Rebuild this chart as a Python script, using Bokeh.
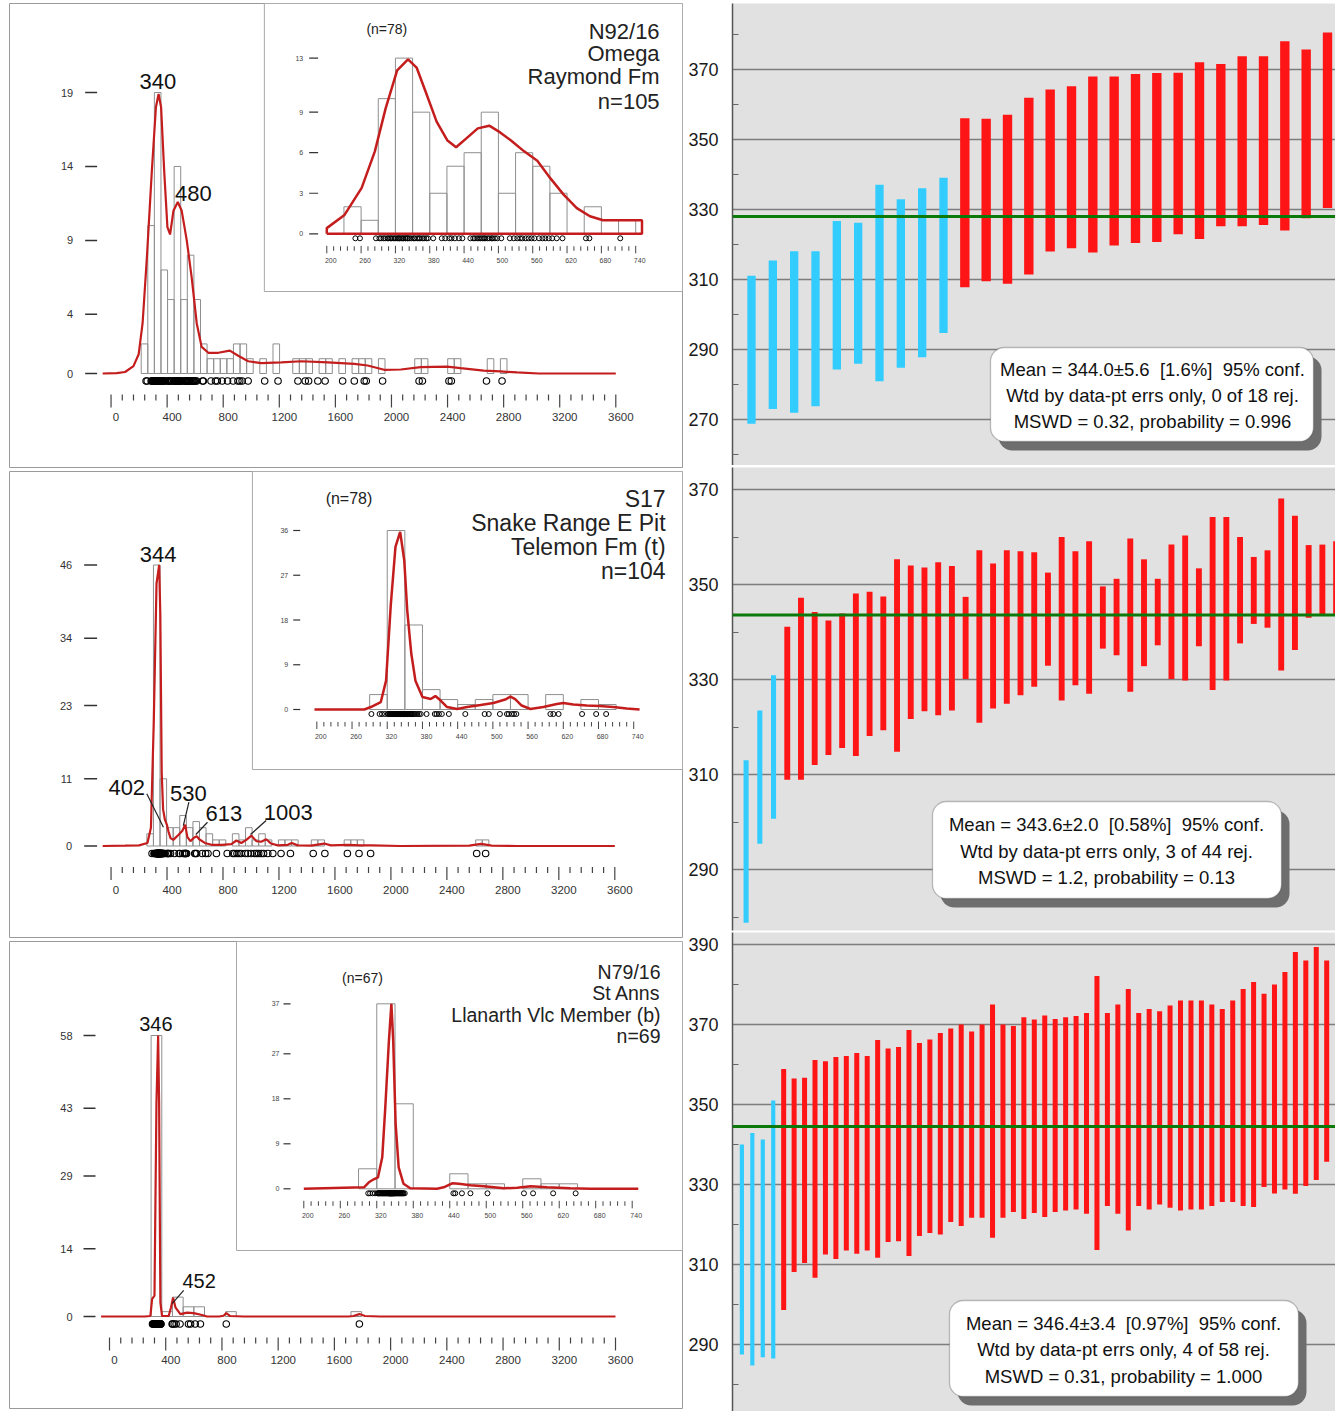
from bokeh.plotting import figure
from bokeh.models import Range1d, FixedTicker, Span, BoxAnnotation, Label
from bokeh.layouts import row, column
from bokeh.embed import file_html
from bokeh.resources import INLINE
from bokeh.core.properties import value

FONT = "Liberation Sans"
KDE_RED = "#c41d1d"
HIST_LINE = "#8f8f8f"
BLUE = "#33ccff"
RED = "#ff1515"

# ====================== DATA ======================
MAIN_XMAJOR = [0, 400, 800, 1200, 1600, 2000, 2400, 2800, 3200, 3600]
MAIN_XMINOR = [t for t in range(0, 3601, 80) if t % 400]
INSET_XMAJOR = [200, 260, 320, 380, 440, 500, 560, 620, 680, 740]
INSET_XMINOR = [t for t in range(200, 741, 12) if (t - 200) % 60]

# ---------- N92/16 ----------
s1_title = ["N92/16", "Omega", "Raymond Fm", "n=105"]
s1_inset_n = "(n=78)"
s1_ages = [250, 258, 286,
           292, 295, 299, 302, 306, 308, 311, 313, 316, 319,
           321, 324, 326, 327, 330, 332, 334, 337, 338, 341, 342, 345, 348,
           352, 354, 358, 361, 363, 367, 370, 374, 377,
           386, 401, 407, 414, 418, 424, 431, 437,
           451, 456, 459, 463, 466, 469,
           472, 475, 477, 481, 484, 488, 490, 494, 498,
           505, 520, 527, 533, 538, 542, 548, 553, 558,
           563, 571, 577, 582, 588, 594, 602, 612, 653, 659, 713,
           745, 758, 793, 831, 871, 905, 918, 935, 978, 1096, 1191, 1333, 1385, 1409,
           1475, 1527, 1652, 1735, 1806, 1820, 1937, 2197, 2221, 2410, 2427, 2678, 2789]
s1_bin_width = 47
s1_bin_left = [215, 262, 309, 356, 403, 450, 497, 544, 591, 638, 685, 732, 779, 826, 873, 920,
               967, 1061, 1155, 1296, 1343, 1390, 1484, 1531, 1625, 1719, 1766, 1813, 1907,
               2166, 2213, 2401, 2448, 2683, 2777]
s1_bin_count = [2, 10, 19, 7, 5, 14, 5, 8, 5, 2, 1, 1, 1, 1, 2, 2, 1, 1, 2, 1, 1, 1, 1, 1, 1,
                1, 1, 1, 1, 1, 1, 1, 1, 1, 1]
s1_kde_x = [-60, 40, 100, 160, 197, 225, 256, 291, 320, 339, 357, 379, 402, 421, 445, 476, 504,
            540, 575, 611, 646, 694, 765, 847, 907, 978, 1072, 1214, 1357, 1546, 1735, 1830,
            1948, 2067, 2209, 2398, 2493, 2658, 2777, 2896, 3050, 3600]
s1_kde_y = [0, 0.02, 0.1, 0.5, 1.3, 3.4, 7.9, 13.7, 18.0, 18.9, 18.0, 13.7, 9.9, 9.4, 11.0, 11.6,
            11.0, 9.0, 6.5, 3.4, 1.8, 1.4, 1.4, 1.55, 1.2, 0.83, 0.7, 0.75, 0.83, 0.75, 0.65,
            0.54, 0.25, 0.27, 0.43, 0.47, 0.36, 0.2, 0.14, 0.07, 0, 0]
s1_yticks = [0, 4, 9, 14, 19]
s1_inset_bin_width = 30
s1_inset_bin_left = [230, 260, 290, 320, 350, 380, 410, 440, 470, 500, 530, 560, 590, 620, 650, 680, 710]
s1_inset_bin_count = [2, 1, 10, 13, 9, 3, 5, 6, 9, 3, 6, 5, 3, 0, 2, 0, 1]
s1_inset_kde_x = [200, 200, 231, 261, 284, 303, 323, 342, 357, 372, 392, 411, 426, 445, 464, 484,
                  503, 522, 545, 568, 591, 614, 637, 660, 683, 751, 751, 200]
s1_inset_kde_y = [0, 0.42, 1.4, 3.4, 6.1, 9.3, 12.1, 12.9, 12.3, 10.6, 8.3, 6.9, 6.4, 7.1, 7.8,
                  8.0, 7.5, 6.9, 6.1, 5.4, 4.1, 2.9, 1.9, 1.3, 1.0, 1.0, 0, 0]
s1_inset_yticks = [0, 3, 6, 9, 13]
s1_peak_text = ["340", "480"]
s1_peak_age = [340, 480]
s1_peak_h = [19, 11.6]

# ---------- S17 ----------
s2_title = ["S17", "Snake Range E Pit", "Telemon Fm (t)", "n=104"]
s2_inset_n = "(n=78)"
s2_ages = [293, 307, 311, 316,
           321, 322, 324, 325, 326, 327, 328, 329, 330, 331, 332, 333, 334, 335, 336, 337, 338, 338, 339, 340,
           341, 341, 342, 343, 343, 344, 345, 345, 346, 347, 347, 348, 348, 349, 349, 349,
           350, 351, 352, 353, 354, 355, 356, 358, 359, 361, 362, 364, 366, 368, 371, 374, 377,
           387, 401, 404, 408, 413, 425, 453, 486, 493, 512, 524, 527, 532, 536, 540,
           598, 603, 612, 652, 676, 693,
           753, 830, 870, 883, 900, 915, 930, 960, 978, 1000, 1025, 1040, 1055, 1073, 1090, 1120, 1156,
           1215, 1282, 1445, 1528, 1689, 1772, 1855, 2613, 2677]
s2_bin_width = 47
s2_bin_left = [256, 303, 350, 397, 444, 491, 538, 585, 632, 679, 726, 773, 867, 914, 961, 1008,
               1055, 1102, 1196, 1243, 1290, 1431, 1478, 1666, 1713, 1760, 2606, 2653]
s2_bin_count = [2, 46, 11, 3, 3, 5, 3, 4, 3, 2, 1, 1, 2, 1, 3, 1, 2, 1, 1, 1, 1, 1, 1, 1, 1, 1, 1, 1]
s2_kde_x = [-60, 100, 200, 260, 285, 305, 325, 344, 352, 362, 372, 385, 400, 410, 425, 445, 481,
            510, 530, 545, 567, 595, 613, 630, 670, 718, 789, 860, 896, 931, 967, 1003, 1038,
            1073, 1109, 1144, 1191, 1263, 1291, 1334, 1429, 1523, 1571, 1689, 1784, 1860, 2068,
            2560, 2645, 2720, 2900, 3600]
s2_kde_y = [0, 0.05, 0.1, 0.5, 3, 20, 43, 46, 38, 12, 6, 4.3, 3.4, 2.4, 1.3, 1.0, 1.8, 2.5, 3.5,
            1.5, 0.8, 1.4, 1.6, 1.1, 0.5, 0.2, 0.2, 0.3, 0.9, 0.5, 1.0, 1.7, 0.8, 0.7, 1.1, 0.4,
            0.1, 0.2, 0.5, 0.1, 0.05, 0.4, 0.1, 0.2, 0.1, 0.1, 0, 0.05, 0.35, 0.05, 0, 0]
s2_yticks = [0, 11, 23, 34, 46]
s2_inset_bin_width = 30
s2_inset_bin_left = [290, 320, 350, 380, 410, 440, 470, 500, 530, 590, 650, 680]
s2_inset_bin_count = [3, 36, 17, 4, 2, 1, 2, 3, 3, 3, 2, 1]
s2_inset_kde_x = [196, 281, 292, 309, 318, 326, 334, 342, 349, 354, 361, 368, 380, 394, 402, 411,
                  422, 439, 456, 479, 501, 521, 530, 538, 549, 564, 586, 609, 620, 637, 660, 682,
                  705, 728, 750]
s2_inset_kde_y = [0, 0, 0.5, 1.5, 5.8, 21, 32.7, 35.7, 30, 20, 11.2, 5.8, 2.5, 2.1, 2.7, 1.8, 0.5,
                  0.1, 0.5, 0.9, 1.3, 2.0, 2.6, 2.1, 0.8, 0.1, 0.5, 1.1, 1.3, 1.0, 0.8, 0.7, 0.5,
                  0.2, 0]
s2_inset_yticks = [0, 9, 18, 27, 36]
s2_peak_text = ["344", "402", "530", "613", "1003"]
s2_peak_age = [344, 402, 530, 613, 1003]
s2_peak_h = [46, 3.4, 3.5, 1.6, 1.7]

# ---------- N79/16 ----------
s3_title = ["N79/16", "St Anns", "Llanarth Vlc Member (b)", "n=69"]
s3_inset_n = "(n=67)"
s3_ages = [306, 309, 313, 317,
           321, 322, 323, 324, 325, 326, 327, 328, 329, 330, 331, 332, 333, 334, 335, 336, 337, 338, 339, 340,
           340, 341, 341, 342, 342, 343, 343, 344, 344, 345, 345, 346, 346, 347, 347, 348, 349,
           350, 350, 351, 352, 353, 354, 355, 356, 357, 358, 359, 360, 361, 362, 363, 364, 366,
           446, 449, 460, 474, 502, 562, 577, 610, 647,
           831, 1778]
s3_bin_width = 76
s3_bin_left = [296, 372, 448, 524, 600, 826, 1718]
s3_bin_count = [58, 1, 4, 2, 2, 1, 1]
s3_kde_x = [-60, 250, 291, 303, 320, 334, 346, 353, 362, 374, 421, 438, 452, 469, 504, 552, 599,
            658, 694, 780, 812, 831, 859, 954, 1700, 1735, 1778, 1818, 1925, 3600]
s3_kde_y = [0, 0, 0.1, 3.6, 4.3, 44, 58, 44, 2.9, 0.1, 0.1, 1.9, 3.9, 1.9, 0.5, 0.8, 0.7, 0.3, 0,
            0, 0.15, 0.7, 0.1, 0, 0, 0.1, 0.5, 0.1, 0, 0]
s3_yticks = [0, 14, 29, 43, 58]
s3_inset_bin_width = 30
s3_inset_bin_left = [290, 320, 350, 440, 470, 500, 560, 590, 620]
s3_inset_bin_count = [4, 37, 17, 3, 1, 1, 2, 1, 1]
s3_inset_kde_x = [200, 299, 307, 315, 322, 329, 334, 340, 344, 347, 351, 356, 364, 375, 419, 430,
                  444, 455, 474, 496, 529, 551, 573, 600, 638, 671, 750]
s3_inset_kde_y = [0, 0.3, 1.3, 1.9, 2.3, 6.3, 16.3, 29.7, 37, 29.7, 13, 4.3, 1, 0.1, 0, 0.3, 1.1,
                  1.0, 0.7, 0.5, 0.1, 0.2, 0.5, 0.3, 0.1, 0, 0]
s3_inset_yticks = [0, 9, 18, 27, 37]
s3_peak_text = ["346", "452"]
s3_peak_age = [346, 452]
s3_peak_h = [58, 3.9]

# ---------- weighted mean plots ----------
wm1_blue_lo = [268.8, 273.0, 271.9, 273.8, 284.3, 285.9, 280.9, 284.8, 287.8, 294.7]
wm1_blue_hi = [311.1, 315.4, 318.1, 318.1, 326.7, 326.2, 337.1, 332.9, 336.1, 339.1]
wm1_red_lo = [307.8, 309.5, 308.8, 311.4, 318.0, 318.9, 317.7, 319.7, 320.4, 320.7, 322.9, 321.6,
              325.2, 325.2, 325.6, 324.0, 327.5, 330.4]
wm1_red_hi = [356.1, 355.9, 357.1, 361.9, 364.3, 365.2, 368.0, 368.0, 368.7, 369.0, 369.1, 372.1,
              371.6, 373.8, 373.8, 378.1, 375.7, 380.6]
wm1_line = 328.0
wm1_yticks = [270, 290, 310, 330, 350, 370, 390]
wm1_yminor = [260, 280, 300, 320, 340, 360, 380]
wm1_text = ["Mean = 344.0±5.6  [1.6%]  95% conf.",
            "Wtd by data-pt errs only, 0 of 18 rej.",
            "MSWD = 0.32, probability = 0.996"]

wm2_blue_lo = [278.8, 295.4, 300.7]
wm2_blue_hi = [313.0, 323.5, 330.9]
wm2_red_lo = [308.9, 308.9, 312.0, 314.1, 315.6, 313.9, 318.1, 319.3, 314.8, 321.7, 323.3, 322.5,
              323.5, 330.1, 320.9, 323.9, 324.9, 326.7, 328.5, 332.9, 325.6, 328.8, 327.0, 336.5,
              335.1, 327.4, 332.8, 337.2, 330.1, 329.8, 337.0, 327.8, 329.8, 337.6, 341.7, 340.9,
              331.9, 336.2, 343.0, 343.5, 343.7]
wm2_red_hi = [341.1, 347.2, 344.2, 342.4, 343.9, 348.1, 348.5, 347.5, 355.3, 354.0, 353.6, 354.7,
              353.9, 347.4, 357.2, 354.4, 357.2, 357.0, 356.8, 352.5, 360.0, 357.0, 359.1, 349.6,
              351.2, 359.7, 355.3, 351.2, 358.4, 360.3, 353.4, 364.2, 364.2, 360.0, 355.8, 357.2,
              368.1, 364.5, 358.3, 358.4, 359.1]
wm2_line = 343.6
wm2_yticks = [290, 310, 330, 350, 370]
wm2_yminor = [280, 300, 320, 340, 360]
wm2_text = ["Mean = 343.6±2.0  [0.58%]  95% conf.",
            "Wtd by data-pt errs only, 3 of 44 rej.",
            "MSWD = 1.2, probability = 0.13"]

wm3_blue_lo = [287.5, 284.75, 286.8, 286.5]
wm3_blue_hi = [340.0, 342.9, 341.25, 351.0]
wm3_red_lo = [298.6, 308.1, 310.4, 306.7, 312.5, 311.4, 313.5, 312.7, 313.5, 311.7, 315.6, 315.8,
              312.1, 317.1, 317.9, 317.5, 320.6, 319.6, 321.7, 321.7, 316.7, 321.7, 323.1, 321.4,
              322.9, 321.9, 323.1, 323.5, 323.75, 322.7, 313.6, 324.6, 322.7, 318.5, 324.6, 323.75,
              325.0, 324.2, 323.5, 323.75, 323.75, 324.6, 325.6, 325.6, 324.6, 324.4, 329.4, 327.75,
              328.75, 327.7, 329.6, 331.1, 335.7]
wm3_red_hi = [358.9, 356.5, 356.7, 361.1, 360.8, 361.9, 362.1, 362.9, 362.1, 366.1, 364.0, 364.4,
              368.6, 365.4, 366.25, 367.9, 369.0, 370.0, 368.25, 370.0, 375.0, 370.0, 369.6, 371.8,
              371.25, 372.25, 371.4, 371.8, 372.1, 372.9, 382.1, 372.9, 375.0, 378.9, 372.9, 373.9,
              373.3, 374.75, 376.0, 376.0, 376.0, 375.0, 373.9, 376.0, 378.9, 380.6, 377.7, 380.0,
              383.1, 388.1, 386.0, 389.4, 386.0]
wm3_line = 344.5
wm3_yticks = [290, 310, 330, 350, 370, 390]
wm3_yminor = [280, 300, 320, 340, 360, 380]
wm3_text = ["Mean = 346.4±3.4  [0.97%]  95% conf.",
            "Wtd by data-pt errs only, 4 of 58 rej.",
            "MSWD = 0.31, probability = 1.000"]

# ====================== LAYOUT (page pixels) ======================
L_CFG = [
    dict(top=0, h=469, frame=(7, 3, 683, 467),
         mx=(109, 0, 616, 3600), my=(373, 0, 92, 19),
         ix=(325.7, 200, 636, 740), iy=(233.3, 0, 57.6, 13),
         box=(263, 3, 683, 291), ytick=(83, 95, 71), iytick=(308, 317, 302),
         title_right=660, title_y=[31, 53, 76, 101], title_size="22px",
         n_pos=(386, 28), n_size="14px", peak_size=22,
         peak_style=[dict(dx=-0.9, dy=-3, align="center"),
                     dict(dx=-3.3, dy=-1, align="left")]),
    dict(top=469, h=470, frame=(7, 471, 683, 937),
         mx=(109, 0, 615, 3600), my=(845.5, 0, 564.5, 46),
         ix=(315.7, 200, 634, 740), iy=(709, 0, 530, 36),
         box=(251, 471, 683, 769), ytick=(82, 95, 70), iytick=(292, 299, 287),
         title_right=666, title_y=[498, 522, 546, 570], title_size="23px",
         n_pos=(348, 498), n_size="16px", peak_size=22,
         peak_style=[dict(dx=-1, dy=-3, align="center"),
                     dict(dx=-22.3, dy=-30, align="right", lead=(-3.9, 2, -20.6, -31.4)),
                     dict(dx=-15.3, dy=-23, align="left", lead=(-1.9, 0.9, 3.7, -22.4)),
                     dict(dx=8.7, dy=-15, align="left", lead=(-1, -1.7, 10.7, -14)),
                     dict(dx=12.5, dy=-15, align="left", lead=(-0.9, -1.1, 14.8, -15.1))]),
    dict(top=939, h=472, frame=(9, 941, 682, 1408),
         mx=(109, 0, 615, 3600), my=(1316, 0, 1035, 58),
         ix=(303.3, 200, 631.7, 740), iy=(1188.3, 0, 1003.3, 37),
         box=(236, 941, 682, 1250), ytick=(83, 95, 72), iytick=(283, 290, 279),
         title_right=660, title_y=[971, 992.5, 1014, 1035.5], title_size="19.5px",
         n_pos=(362, 977), n_size="14px", peak_size=20,
         peak_style=[dict(dx=-2.2, dy=-5, align="center"),
                     dict(dx=9.4, dy=-9.2, align="left", lead=(-0.9, 6.1, 10.7, -7.2))]),
]

R_CFG = [
    dict(top=0, h=465, ft=3, fb=465, xmap=(751, 1, 1327, 28), ymap=(69, 370, 139, 350),
         box=(990, 347, 1313, 441), text_x=1152, text_y=[369, 395, 421], wb=0.39, wr=0.44),
    dict(top=465, h=466, ft=467, fb=930, xmap=(745.6, 1, 1335.6, 44), ymap=(489, 370, 584, 350),
         box=(932, 801, 1281, 898), text_x=1106, text_y=[824, 851, 877], wb=0.37, wr=0.43),
    dict(top=931, h=480, ft=932, fb=1411, xmap=(741.4, 1, 1326.2, 57), ymap=(944, 390, 1024, 370),
         box=(949, 1300, 1298, 1396), text_x=1123, text_y=[1323, 1349, 1376], wb=0.4, wr=0.48),
]


def lin(p0, v0, p1, v1):
    k = (v1 - v0) / (p1 - p0)
    return lambda p: v0 + (p - p0) * k


def txt(p, xs, ys, texts, size, align="center", baseline="middle", color="#222", **kw):
    p.text(x=list(xs), y=list(ys), text=list(texts), text_font=value(FONT), text_font_size=size,
           text_align=align, text_baseline=baseline, text_color=color, **kw)


def hist_panel(cfg, d):
    fl, ft, fr, fb = cfg["frame"]
    top, h = cfg["top"], cfg["h"]
    X, Y = lin(*cfg["mx"]), lin(*cfg["my"])
    IX, IY = lin(*cfg["ix"]), lin(*cfg["iy"])
    sx = (cfg["mx"][2] - cfg["mx"][0]) / (cfg["mx"][3] - cfg["mx"][1])
    sy = (cfg["my"][0] - cfg["my"][2]) / (cfg["my"][3] - cfg["my"][1])
    isx = (cfg["ix"][2] - cfg["ix"][0]) / (cfg["ix"][3] - cfg["ix"][1])
    base, ibase = cfg["my"][0], cfg["iy"][0]

    p = figure(width=685, height=h, x_range=Range1d(X(fl), X(fr)), y_range=Range1d(Y(fb), Y(ft)),
               output_backend="svg", toolbar_location=None,
               x_axis_location=None, y_axis_location=None,
               min_border_left=fl, min_border_right=685 - fr,
               min_border_top=ft - top, min_border_bottom=top + h - fb,
               outline_line_color="#9a9a9a", outline_line_width=1,
               background_fill_color="white", border_fill_color="white")
    p.xgrid.visible = False
    p.ygrid.visible = False
    p.extra_x_ranges = {"ix": Range1d(IX(fl), IX(fr))}
    p.extra_y_ranges = {"iy": Range1d(IY(fb), IY(ft))}
    ins = dict(x_range_name="ix", y_range_name="iy")

    # inset frame
    bx0, by0, bx1, by1 = cfg["box"]
    p.quad(left=[X(bx0)], right=[X(bx1)], top=[Y(by0)], bottom=[Y(by1)],
           fill_color="white", line_color="#a8a8a8", line_width=1)

    # ---- main histogram + KDE ----
    w = d["bin_width"]
    p.quad(left=d["bin_left"], right=[l + w for l in d["bin_left"]], bottom=0, top=d["bin_count"],
           fill_color=None, line_color=HIST_LINE, line_width=1)
    p.line(d["kde_x"], d["kde_y"], line_color=KDE_RED, line_width=2.2)
    p.scatter(x=d["ages"], y=[Y(base + 7.5)] * len(d["ages"]), marker="circle", size=6.5,
              fill_color=None, line_color="black", line_width=1.1)

    # main y ticks
    yt = d["yticks"]
    p.segment(x0=[X(cfg["ytick"][0])] * len(yt), x1=[X(cfg["ytick"][1])] * len(yt), y0=yt, y1=yt,
              line_color="#333", line_width=1.5)
    txt(p, [X(cfg["ytick"][2])] * len(yt), yt, [str(t) for t in yt], "11px", align="right", color="#333")
    # main x ticks
    p.segment(x0=MAIN_XMAJOR, x1=MAIN_XMAJOR, y0=[Y(base + 21)] * len(MAIN_XMAJOR),
              y1=[Y(base + 34)] * len(MAIN_XMAJOR), line_color="#444", line_width=1.2)
    p.segment(x0=MAIN_XMINOR, x1=MAIN_XMINOR, y0=[Y(base + 21)] * len(MAIN_XMINOR),
              y1=[Y(base + 27)] * len(MAIN_XMINOR), line_color="#444", line_width=1.2)
    txt(p, [t + 5 / sx for t in MAIN_XMAJOR], [Y(base + 43.5)] * len(MAIN_XMAJOR),
        [str(t) for t in MAIN_XMAJOR], "11.5px", color="#333")

    # ---- inset ----
    iw = d["inset_bin_width"]
    p.quad(left=d["inset_bin_left"], right=[l + iw for l in d["inset_bin_left"]], bottom=0,
           top=d["inset_bin_count"], fill_color=None, line_color=HIST_LINE, line_width=1, **ins)
    p.line(d["inset_kde_x"], d["inset_kde_y"], line_color=KDE_RED, line_width=2.5, **ins)
    iages = [a for a in d["ages"] if 200 <= a <= 740]
    p.scatter(x=iages, y=[IY(ibase + 4.5)] * len(iages), marker="circle", size=5,
              fill_color=None, line_color="black", line_width=1, **ins)
    iyt = d["inset_yticks"]
    p.segment(x0=[IX(cfg["iytick"][0])] * len(iyt), x1=[IX(cfg["iytick"][1])] * len(iyt),
              y0=iyt, y1=iyt, line_color="#333", line_width=1.2, **ins)
    txt(p, [IX(cfg["iytick"][2])] * len(iyt), iyt, [str(t) for t in iyt], "7px", align="right",
        color="#444", **ins)
    p.segment(x0=INSET_XMAJOR, x1=INSET_XMAJOR, y0=[IY(ibase + 12)] * len(INSET_XMAJOR),
              y1=[IY(ibase + 19.5)] * len(INSET_XMAJOR), line_color="#444", line_width=1, **ins)
    p.segment(x0=INSET_XMINOR, x1=INSET_XMINOR, y0=[IY(ibase + 12.5)] * len(INSET_XMINOR),
              y1=[IY(ibase + 17)] * len(INSET_XMINOR), line_color="#444", line_width=1, **ins)
    txt(p, [t + 4 / isx for t in INSET_XMAJOR], [IY(ibase + 26.5)] * len(INSET_XMAJOR),
        [str(t) for t in INSET_XMAJOR], "7px", color="#444", **ins)

    # ---- titles ----
    txt(p, [X(cfg["title_right"])] * len(d["title"]), [Y(v) for v in cfg["title_y"]], d["title"],
        cfg["title_size"], align="right", color="#222")
    txt(p, [X(cfg["n_pos"][0])], [Y(cfg["n_pos"][1])], [d["inset_n"]], cfg["n_size"], color="#222")

    # ---- peak labels (dy = offset of the text bottom; drawn centred on the digits) ----
    fs = cfg["peak_size"]
    for t, a, hh, st in zip(d["peak_text"], d["peak_age"], d["peak_h"], cfg["peak_style"]):
        cy = st["dy"] - 0.35 * fs
        txt(p, [a + st["dx"] / sx], [hh - cy / sy], [t], "%dpx" % fs, align=st["align"],
            baseline="middle", color="#111")
        if "lead" in st:
            l0, l1, l2, l3 = st["lead"]
            p.segment(x0=[a + l0 / sx], y0=[hh - l1 / sy], x1=[a + l2 / sx], y1=[hh - l3 / sy],
                      line_color="#222", line_width=1.2)
    return p


def wm_panel(cfg, d):
    Xr, Yr = lin(*cfg["xmap"]), lin(*cfg["ymap"])
    top, h, ft, fb = cfg["top"], cfg["h"], cfg["ft"], cfg["fb"]
    p = figure(width=650, height=h, x_range=Range1d(Xr(732), Xr(1335)),
               y_range=Range1d(Yr(fb), Yr(ft)), output_backend="svg", toolbar_location=None,
               x_axis_location=None, y_axis_location="left",
               min_border_left=47, min_border_right=0,
               min_border_top=ft - top, min_border_bottom=top + h - fb,
               background_fill_color="#e1e1e1", border_fill_color="white",
               outline_line_color=None)
    ax = p.yaxis[0]
    ax.ticker = FixedTicker(ticks=d["yticks"], minor_ticks=d["yminor"])
    ax.major_label_text_font = FONT
    ax.major_label_text_font_size = "18px"
    ax.major_label_text_color = "#1a1a1a"
    ax.major_label_standoff = 14
    ax.axis_line_color = "#555"
    ax.axis_line_width = 1.5
    ax.major_tick_in = 0
    ax.major_tick_out = 0
    ax.minor_tick_in = 6
    ax.minor_tick_out = 0
    ax.minor_tick_line_color = "#666"
    ax.minor_tick_line_width = 1.2
    p.ygrid.grid_line_color = "#7d7d7d"
    p.ygrid.grid_line_width = 1.5
    p.xgrid.visible = False

    nb, nr = len(d["blue_lo"]), len(d["red_lo"])
    p.vbar(x=list(range(1, nb + 1)), width=cfg["wb"], bottom=d["blue_lo"], top=d["blue_hi"],
           fill_color=BLUE, line_color=None)
    p.vbar(x=list(range(nb + 1, nb + nr + 1)), width=cfg["wr"], bottom=d["red_lo"], top=d["red_hi"],
           fill_color=RED, line_color=None)
    p.add_layout(Span(location=d["line"], dimension="width", line_color="#0b7a0b", line_width=3))

    bx0, by0, bx1, by1 = cfg["box"]
    p.add_layout(BoxAnnotation(left=Xr(bx0 + 8), right=Xr(bx1 + 8), top=Yr(by0 + 9), bottom=Yr(by1 + 9),
                               fill_color="#6e6e6e", fill_alpha=1, line_color=None, border_radius=14))
    p.add_layout(BoxAnnotation(left=Xr(bx0), right=Xr(bx1), top=Yr(by0), bottom=Yr(by1),
                               fill_color="white", fill_alpha=1, line_color="#333", line_width=1.3,
                               border_radius=14))
    for line, ty in zip(d["text"], cfg["text_y"]):
        shown = line.replace("  ", " \u00a0")   # keep the double gaps visible
        p.add_layout(Label(x=Xr(cfg["text_x"]), y=Yr(ty), text=shown, text_align="center",
                           text_baseline="middle", text_font=FONT, text_font_size="18.5px",
                           text_color="#111"))
    return p


S = [
    dict(title=s1_title, inset_n=s1_inset_n, ages=s1_ages, bin_width=s1_bin_width,
         bin_left=s1_bin_left, bin_count=s1_bin_count, kde_x=s1_kde_x, kde_y=s1_kde_y,
         yticks=s1_yticks, inset_bin_width=s1_inset_bin_width, inset_bin_left=s1_inset_bin_left,
         inset_bin_count=s1_inset_bin_count, inset_kde_x=s1_inset_kde_x, inset_kde_y=s1_inset_kde_y,
         inset_yticks=s1_inset_yticks, peak_text=s1_peak_text, peak_age=s1_peak_age, peak_h=s1_peak_h),
    dict(title=s2_title, inset_n=s2_inset_n, ages=s2_ages, bin_width=s2_bin_width,
         bin_left=s2_bin_left, bin_count=s2_bin_count, kde_x=s2_kde_x, kde_y=s2_kde_y,
         yticks=s2_yticks, inset_bin_width=s2_inset_bin_width, inset_bin_left=s2_inset_bin_left,
         inset_bin_count=s2_inset_bin_count, inset_kde_x=s2_inset_kde_x, inset_kde_y=s2_inset_kde_y,
         inset_yticks=s2_inset_yticks, peak_text=s2_peak_text, peak_age=s2_peak_age, peak_h=s2_peak_h),
    dict(title=s3_title, inset_n=s3_inset_n, ages=s3_ages, bin_width=s3_bin_width,
         bin_left=s3_bin_left, bin_count=s3_bin_count, kde_x=s3_kde_x, kde_y=s3_kde_y,
         yticks=s3_yticks, inset_bin_width=s3_inset_bin_width, inset_bin_left=s3_inset_bin_left,
         inset_bin_count=s3_inset_bin_count, inset_kde_x=s3_inset_kde_x, inset_kde_y=s3_inset_kde_y,
         inset_yticks=s3_inset_yticks, peak_text=s3_peak_text, peak_age=s3_peak_age, peak_h=s3_peak_h),
]
W = [
    dict(blue_lo=wm1_blue_lo, blue_hi=wm1_blue_hi, red_lo=wm1_red_lo, red_hi=wm1_red_hi,
         line=wm1_line, yticks=wm1_yticks, yminor=wm1_yminor, text=wm1_text),
    dict(blue_lo=wm2_blue_lo, blue_hi=wm2_blue_hi, red_lo=wm2_red_lo, red_hi=wm2_red_hi,
         line=wm2_line, yticks=wm2_yticks, yminor=wm2_yminor, text=wm2_text),
    dict(blue_lo=wm3_blue_lo, blue_hi=wm3_blue_hi, red_lo=wm3_red_lo, red_hi=wm3_red_hi,
         line=wm3_line, yticks=wm3_yticks, yminor=wm3_yminor, text=wm3_text),
]

left = column(*[hist_panel(c, d) for c, d in zip(L_CFG, S)], spacing=0)
right = column(*[wm_panel(c, d) for c, d in zip(R_CFG, W)], spacing=0)
layout = row(left, right, spacing=0)

open("out.html", "w").write(file_html(layout, INLINE, title="Detrital zircon ages"))
